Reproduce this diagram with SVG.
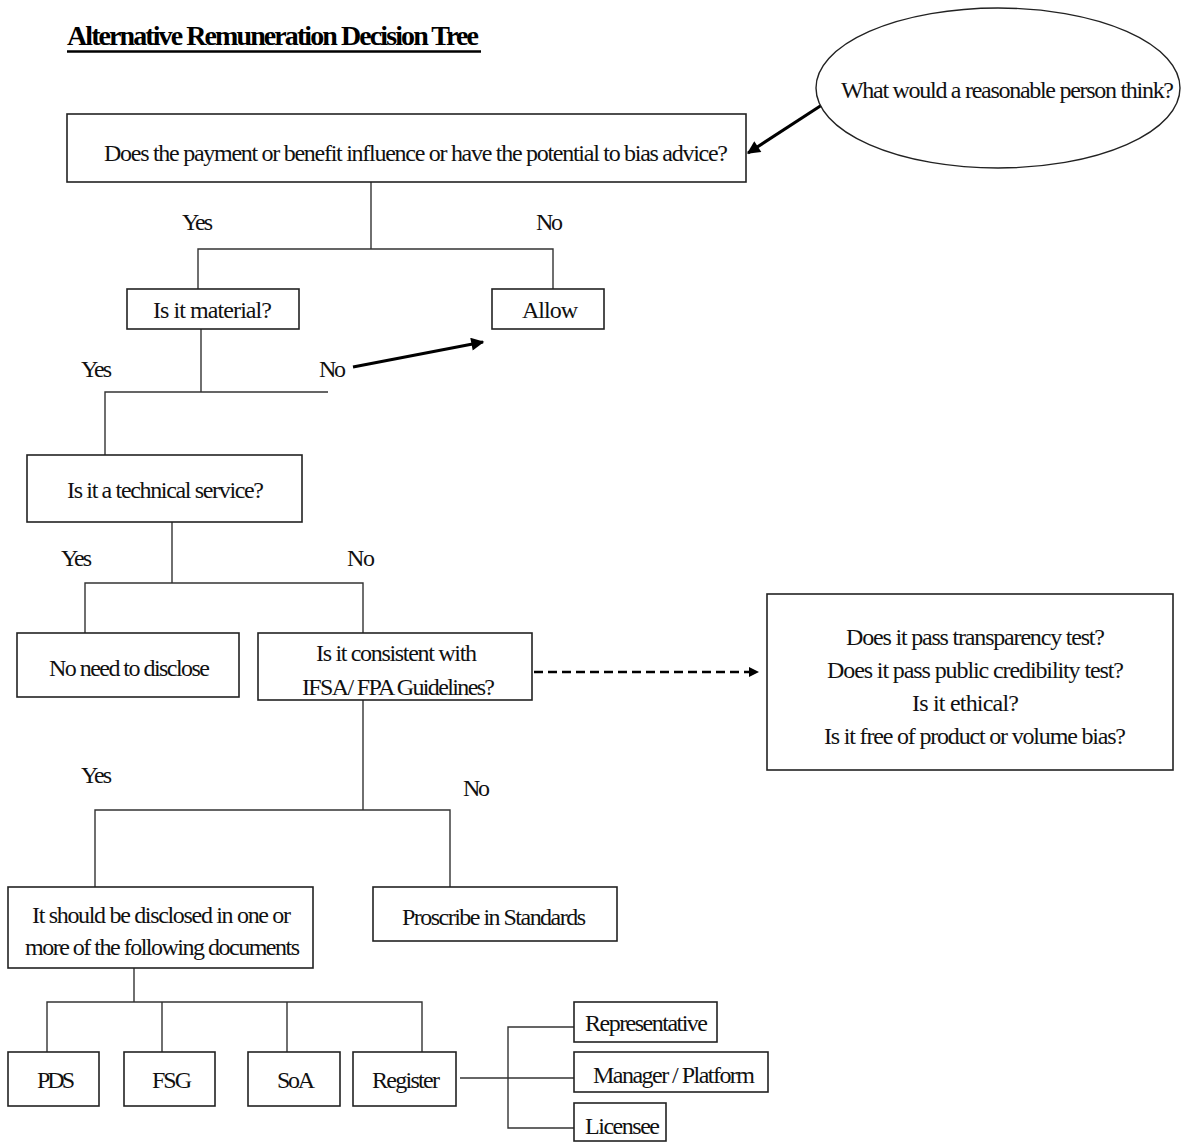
<svg xmlns="http://www.w3.org/2000/svg" width="1182" height="1142" viewBox="0 0 1182 1142">
  <style>
    .bg { fill: #ffffff; }
    .box { fill: #ffffff; stroke: #222222; stroke-width: 1.6; }
    .t { font-family: "Liberation Serif", "Times New Roman", serif; font-size: 24px; fill: #111111; }
    .title { font-family: "Liberation Serif", "Times New Roman", serif; font-size: 28px; font-weight: bold; fill: #000000; }
    .conn { fill: none; stroke: #333333; stroke-width: 1.4; }
    .thick { fill: none; stroke: #000000; stroke-width: 3; }
    .dash { fill: none; stroke: #000000; stroke-width: 2.6; stroke-dasharray: 9 5; }
  </style>
  <defs>
    <marker id="ah" viewBox="0 0 10 10" refX="9" refY="5" markerWidth="16" markerHeight="13" markerUnits="userSpaceOnUse" orient="auto">
      <path d="M0,0 L10,5 L0,10 z" fill="#000000"/>
    </marker>
    <marker id="ahs" viewBox="0 0 10 10" refX="9" refY="5" markerWidth="10" markerHeight="10" markerUnits="userSpaceOnUse" orient="auto">
      <path d="M0,0 L10,5 L0,10 z" fill="#000000"/>
    </marker>
  </defs>
  <rect class="bg" x="0" y="0" width="1182" height="1142"/>

  <g id="title">
    <text class="title" x="67" y="45" textLength="412" lengthAdjust="spacing">Alternative Remuneration Decision Tree</text>
    <line x1="67" y1="51.5" x2="481" y2="51.5" stroke="#000000" stroke-width="2.6"/>
  </g>

  <g id="connectors">
    <polyline class="conn" points="371,182 371,249"/>
    <polyline class="conn" points="198,289 198,249 553,249 553,289"/>
    <polyline class="conn" points="201,329 201,392"/>
    <polyline class="conn" points="105,457 105,392 328,392"/>
    <polyline class="conn" points="172,519 172,583"/>
    <polyline class="conn" points="85,633 85,583 363,583 363,633"/>
    <polyline class="conn" points="363,700 363,810"/>
    <polyline class="conn" points="95,887 95,810 450,810 450,887"/>
    <polyline class="conn" points="134,968 134,1002"/>
    <polyline class="conn" points="47,1052 47,1002 422,1002 422,1052"/>
    <polyline class="conn" points="162,1002 162,1052"/>
    <polyline class="conn" points="287,1002 287,1052"/>
    <polyline class="conn" points="460,1078 574,1078"/>
    <polyline class="conn" points="574,1027 508,1027 508,1128 574,1128"/>
    <line class="thick" x1="828" y1="101" x2="748" y2="153" marker-end="url(#ah)"/>
    <line class="thick" x1="353" y1="367" x2="483" y2="342" marker-end="url(#ah)"/>
    <line class="dash" x1="534" y1="672" x2="758" y2="672" marker-end="url(#ahs)"/>
  </g>

  <g id="node-reasonable">
    <ellipse cx="998" cy="88" rx="182" ry="80" fill="#ffffff" stroke="#222222" stroke-width="1.4"/>
    <text class="t" x="841" y="98" textLength="333" lengthAdjust="spacing">What would a reasonable person think?</text>
  </g>

  <g id="node-bias">
    <rect class="box" x="67" y="114" width="679" height="68"/>
    <text class="t" x="104" y="161" textLength="624" lengthAdjust="spacing">Does the payment or benefit influence or have the potential to bias advice?</text>
  </g>

  <g id="labels">
    <text class="t" x="182" y="230" textLength="31" lengthAdjust="spacing">Yes</text>
    <text class="t" x="536" y="230" textLength="27" lengthAdjust="spacing">No</text>
    <text class="t" x="81" y="377" textLength="31" lengthAdjust="spacing">Yes</text>
    <text class="t" x="319" y="377" textLength="27" lengthAdjust="spacing">No</text>
    <text class="t" x="61" y="566" textLength="31" lengthAdjust="spacing">Yes</text>
    <text class="t" x="347" y="566" textLength="28" lengthAdjust="spacing">No</text>
    <text class="t" x="81" y="783" textLength="31" lengthAdjust="spacing">Yes</text>
    <text class="t" x="463" y="796" textLength="27" lengthAdjust="spacing">No</text>
  </g>

  <g id="node-material">
    <rect class="box" x="127" y="289" width="172" height="40"/>
    <text class="t" x="153" y="318" textLength="119" lengthAdjust="spacing">Is it material?</text>
  </g>

  <g id="node-allow">
    <rect class="box" x="492" y="289" width="112" height="40"/>
    <text class="t" x="522" y="318" textLength="56" lengthAdjust="spacing">Allow</text>
  </g>

  <g id="node-technical">
    <rect class="box" x="27" y="455" width="275" height="67"/>
    <text class="t" x="67" y="498" textLength="197" lengthAdjust="spacing">Is it a technical service?</text>
  </g>

  <g id="node-no-need">
    <rect class="box" x="17" y="633" width="222" height="64"/>
    <text class="t" x="49" y="676" textLength="161" lengthAdjust="spacing">No need to disclose</text>
  </g>

  <g id="node-consistent">
    <rect class="box" x="258" y="633" width="274" height="67"/>
    <text class="t" x="316" y="661" textLength="161" lengthAdjust="spacing">Is it consistent with</text>
    <text class="t" x="302" y="695" textLength="193" lengthAdjust="spacing">IFSA/ FPA Guidelines?</text>
  </g>

  <g id="node-tests">
    <rect class="box" x="767" y="594" width="406" height="176"/>
    <text class="t" x="846" y="645" textLength="259" lengthAdjust="spacing">Does it pass transparency test?</text>
    <text class="t" x="827" y="678" textLength="297" lengthAdjust="spacing">Does it pass public credibility test?</text>
    <text class="t" x="912" y="711" textLength="107" lengthAdjust="spacing">Is it ethical?</text>
    <text class="t" x="824" y="744" textLength="302" lengthAdjust="spacing">Is it free of product or volume bias?</text>
  </g>

  <g id="node-disclose">
    <rect class="box" x="8" y="887" width="305" height="81"/>
    <text class="t" x="32" y="923" textLength="259" lengthAdjust="spacing">It should be disclosed in one or</text>
    <text class="t" x="25" y="955" textLength="275" lengthAdjust="spacing">more of the following documents</text>
  </g>

  <g id="node-proscribe">
    <rect class="box" x="373" y="887" width="244" height="54"/>
    <text class="t" x="402" y="925" textLength="184" lengthAdjust="spacing">Proscribe in Standards</text>
  </g>

  <g id="node-pds">
    <rect class="box" x="8" y="1052" width="91" height="54"/>
    <text class="t" x="37" y="1088" textLength="38" lengthAdjust="spacing">PDS</text>
  </g>
  <g id="node-fsg">
    <rect class="box" x="124" y="1052" width="91" height="54"/>
    <text class="t" x="152" y="1088" textLength="40" lengthAdjust="spacing">FSG</text>
  </g>
  <g id="node-soa">
    <rect class="box" x="248" y="1052" width="92" height="54"/>
    <text class="t" x="277" y="1088" textLength="38" lengthAdjust="spacing">SoA</text>
  </g>
  <g id="node-register">
    <rect class="box" x="353" y="1052" width="103" height="54"/>
    <text class="t" x="372" y="1088" textLength="68" lengthAdjust="spacing">Register</text>
  </g>

  <g id="node-representative">
    <rect class="box" x="574" y="1002" width="143" height="40"/>
    <text class="t" x="585" y="1031" textLength="123" lengthAdjust="spacing">Representative</text>
  </g>
  <g id="node-manager">
    <rect class="box" x="574" y="1052" width="194" height="40"/>
    <text class="t" x="593" y="1083" textLength="162" lengthAdjust="spacing">Manager / Platform</text>
  </g>
  <g id="node-licensee">
    <rect class="box" x="574" y="1103" width="92" height="38"/>
    <text class="t" x="585" y="1134" textLength="75" lengthAdjust="spacing">Licensee</text>
  </g>
</svg>
